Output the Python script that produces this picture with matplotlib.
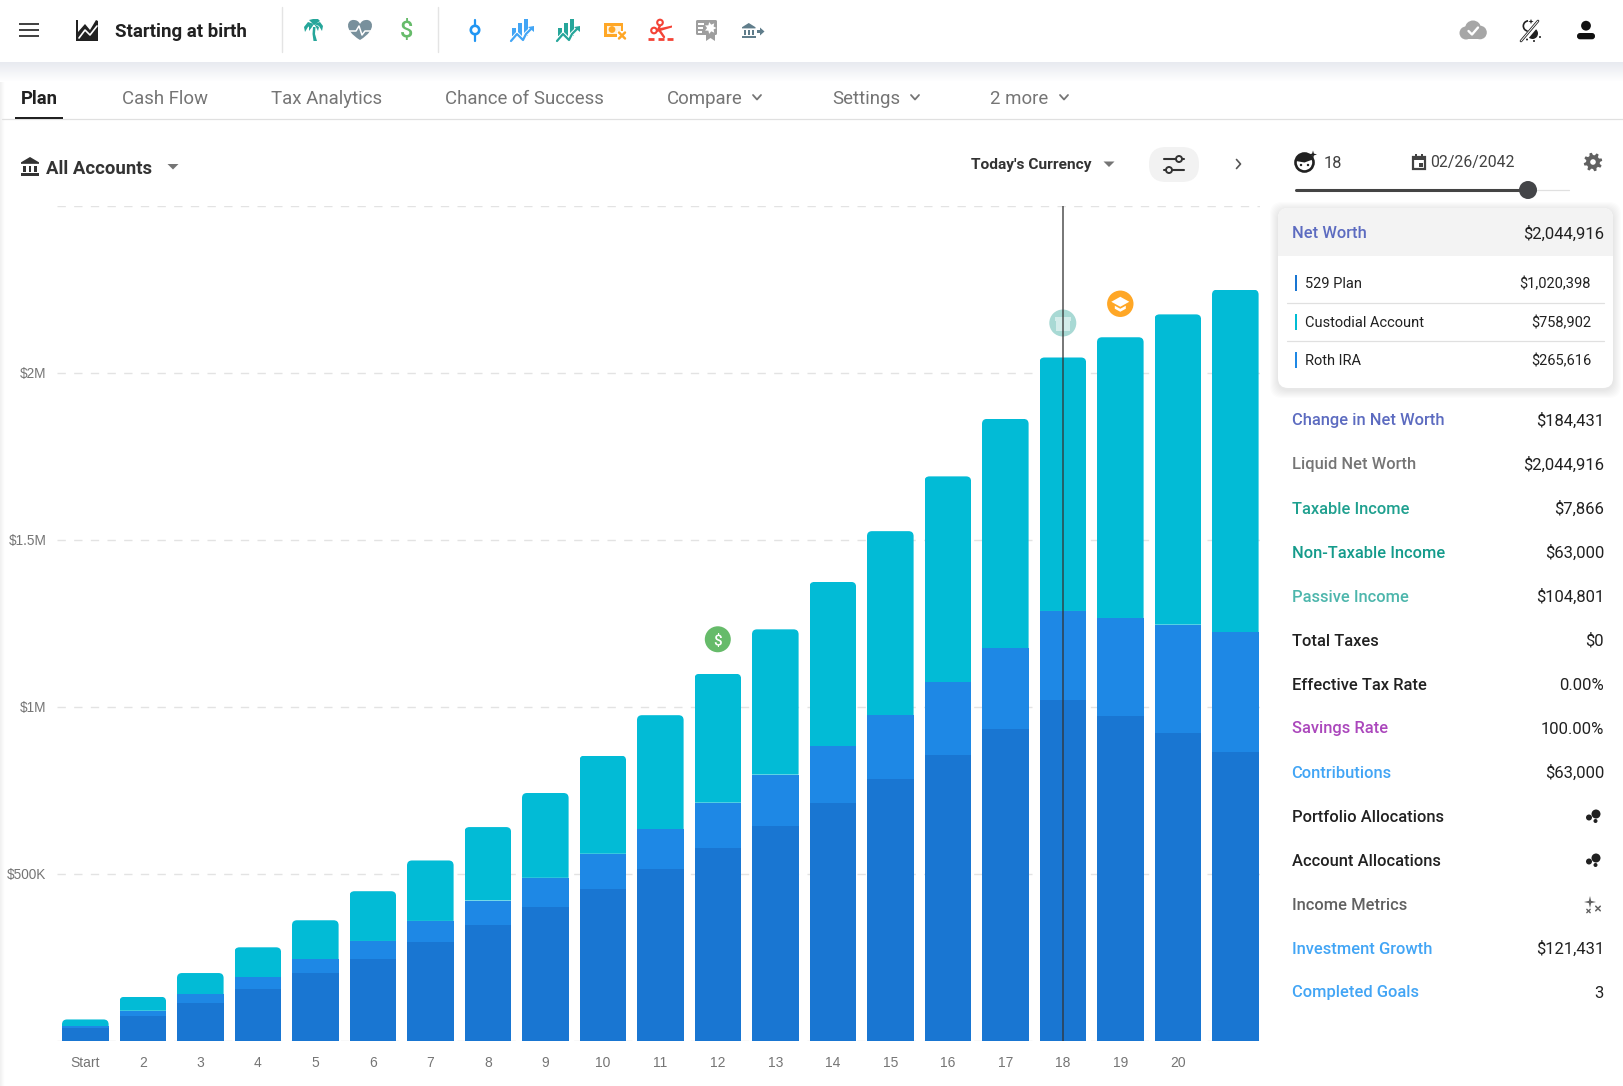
import numpy as np
import matplotlib
matplotlib.use("Agg")
import matplotlib.pyplot as plt
from matplotlib.path import Path
from matplotlib.patches import Rectangle, Circle, FancyBboxPatch, PathPatch, Polygon, Wedge

# ---------- data ----------
periods = ['Start', '2', '3', '4', '5', '6', '7', '8', '9', '10', '11', '12', '13', '14', '15', '16', '17', '18', '19', '20', '']
plan_529 = [36e3, 74e3, 113e3, 155e3, 201e3, 244e3, 294e3, 345e3, 401e3, 453e3, 512e3, 576e3, 641e3, 710e3, 782e3, 856e3, 934e3, 1020398, 971e3, 920e3, 865e3]
roth_ira = [7e3, 15e3, 25e3, 34e3, 42e3, 54e3, 64e3, 74e3, 86e3, 106e3, 121e3, 136e3, 155e3, 171e3, 192e3, 217e3, 241e3, 265616, 294e3, 325e3, 357e3]
custodial = [20e3, 42e3, 64e3, 90e3, 117e3, 149e3, 181e3, 220e3, 254e3, 294e3, 341e3, 386e3, 435e3, 492e3, 551e3, 616e3, 686e3, 758902, 840.5e3, 929e3, 1026e3]
y_ticks = [0, 500e3, 1e6, 1.5e6, 2e6, 2.5e6]
y_tick_labels = ['', '$500K', '$1M', '$1.5M', '$2M', '']
selected_period = 17

tabs = [('Cash Flow', 122), ('Tax Analytics', 271), ('Chance of Success', 445), ('Compare', 667), ('Settings', 832), ('2 more', 990)]
tab_chevrons = [757, 915, 1064]
breakdown = [('529 Plan', '$1,020,398', '#1976d2', 283), ('Custodial Account', '$758,902', '#00bcd4', 321.5), ('Roth IRA', '$265,616', '#1e88e5', 359.5)]
metrics = [
    ('Change in Net Worth', '$184,431', '#5c6bc0'),
    ('Liquid Net Worth', '$2,044,916', '#757575'),
    ('Taxable Income', '$7,866', '#1fa08f'),
    ('Non-Taxable Income', '$63,000', '#149b8b'),
    ('Passive Income', '$104,801', '#4db6ac'),
    ('Total Taxes', '$0', '#212121'),
    ('Effective Tax Rate', '0.00%', '#212121'),
    ('Savings Rate', '100.00%', '#ab47bc'),
    ('Contributions', '$63,000', '#42a5f5'),
    ('Portfolio Allocations', None, '#212121'),
    ('Account Allocations', None, '#212121'),
    ('Income Metrics', None, '#616161'),
    ('Investment Growth', '$121,431', '#42a5f5'),
    ('Completed Goals', '3', '#42a5f5'),
]

# ---------- figure ----------
W, H = 1623, 1086
plt.rcParams['font.family'] = ['Roboto', 'DejaVu Sans']
fig = plt.figure(figsize=(W / 100, H / 100), dpi=100, facecolor='white')

AX_L, AX_R, AX_T, AX_B = 57, 1260, 205.5, 1040.5
ax = fig.add_axes([AX_L / W, 1 - AX_B / H, (AX_R - AX_L) / W, (AX_B - AX_T) / H])
ax.set_facecolor('none')
px_per_x = 57.5
ax.set_xlim((AX_L - 85.3) / px_per_x, (AX_R - 85.3) / px_per_x)
ax.set_ylim(0, 2.5e6)
x = np.arange(len(periods))
bw = 46.6 / px_per_x
p = np.array(plan_529, float); r = np.array(roth_ira, float); c = np.array(custodial, float)
ax.bar(x, p, bw, color='#1976d2', zorder=3, label='529 Plan')
ax.bar(x, r, bw, bottom=p, color='#1e88e5', zorder=3, label='Roth IRA')
tops = ax.bar(x, c, bw, bottom=p + r, color='#02bbd6', zorder=3, label='Custodial Account')
rx = 5 / px_per_x
ry = 5 * 2.5e6 / (AX_B - AX_T)
for rect in tops:
    x0, y0 = rect.get_x(), rect.get_y()
    x1, y1 = x0 + rect.get_width(), y0 + rect.get_height()
    verts = [(x0, y0), (x0, y1 - ry), (x0, y1), (x0 + rx, y1), (x1 - rx, y1), (x1, y1), (x1, y1 - ry), (x1, y0), (x0, y0)]
    codes = [Path.MOVETO, Path.LINETO, Path.CURVE3, Path.CURVE3, Path.LINETO, Path.CURVE3, Path.CURVE3, Path.LINETO, Path.CLOSEPOLY]
    rect.set_clip_path(Path(verts, codes), ax.transData)

ax.set_yticks(y_ticks, y_tick_labels, family=['Liberation Sans'], fontsize=9.8, color='#757575')
ax.set_xticks(x, periods, family=['Liberation Sans'], fontsize=10, color='#757575')
ax.tick_params(axis='both', length=0)
ax.tick_params(axis='y', pad=7.5)
ax.tick_params(axis='x', pad=11.5)
ax.grid(axis='y', color='#e3e3e3', lw=1, dashes=(6, 6), zorder=0)
ax.set_axisbelow(True)
for s in ax.spines.values():
    s.set_visible(False)

# ---------- overlay in pixel coordinates ----------
ui = fig.add_axes([0, 0, 1, 1], zorder=10)
ui.set_xlim(0, W); ui.set_ylim(H, 0); ui.axis('off'); ui.patch.set_alpha(0)
under = fig.add_axes([0, 0, 1, 1], zorder=-1)
under.axis('off')


def T(x, y, s, size=11.8, color='#212121', ha='left', weight='normal', va='center_baseline', fam=None, **kw):
    if fam:
        kw['family'] = fam
    return ui.text(x, y, s, fontsize=size, color=color, ha=ha, va=va, fontweight=weight, **kw)


def L(xs, ys, color='k', lw=1.5, **kw):
    kw.setdefault('solid_capstyle', 'round')
    ui.plot(xs, ys, color=color, lw=lw, **kw)


def R(x0, y0, x1, y1, color, z=2, **kw):
    ui.add_patch(Rectangle((x0, y0), x1 - x0, y1 - y0, fc=color, ec='none', zorder=z, **kw))


def C(x, y, rad, color, z=3, **kw):
    ui.add_patch(Circle((x, y), rad, fc=color, ec='none', zorder=z, **kw))


def RING(x, y, rad, color, lw=1.5, z=3, fc='white'):
    ui.add_patch(Circle((x, y), rad, fc=fc, ec=color, lw=lw, zorder=z))


def P(pts, color, z=3):
    ui.add_patch(Polygon(pts, closed=True, fc=color, ec='none', zorder=z))


def chev(x, y, color='#757575', s=4):
    L([x - s, x, x + s], [y - s / 2, y + s / 2 + .5, y - s / 2], color=color, lw=1.3, zorder=4)


def tri(x, y, color='#757575', s=5.5):
    P([(x - s, y - 2.5), (x + s, y - 2.5), (x, y + 3)], color)


def star(x, y, ro, ri, n, color, z=5, rot=0):
    ang = np.radians(rot) + np.arange(2 * n) * np.pi / n
    rad = np.where(np.arange(2 * n) % 2 == 0, ro, ri)
    P(np.c_[x + rad * np.cos(ang), y + rad * np.sin(ang)], color, z=z)


def cross(x, y, s, color, lw=1.4):
    L([x - s, x + s], [y - s, y + s], color=color, lw=lw, zorder=5)
    L([x - s, x + s], [y + s, y - s], color=color, lw=lw, zorder=5)


def bank(x0, x1, y0, y1, col):
    mid = (x0 + x1) / 2
    h = y1 - y0
    P([(x0, y0 + .28 * h), (mid, y0), (x1, y0 + .28 * h), (x1, y0 + .36 * h), (x0, y0 + .36 * h)], col)
    R(x0, y1 - .14 * h, x1, y1, col)
    for f in (0.2, 0.5, 0.8):
        xc = x0 + f * (x1 - x0)
        R(xc - .07 * h, y0 + .45 * h, xc + .07 * h, y1 - .22 * h, col)


# nav bar and page-edge shadows
g = np.linspace(0, 1, 20)[:, None, None]
grad = np.array([232, 234, 240])[None, None, :] / 255 * (1 - g) + g
under.imshow(grad, extent=(0, W, 82, 62), aspect='auto', zorder=1)
g2 = np.linspace(0, 1, 6)[None, :, None]
grad2 = np.array([241, 241, 241])[None, None, :] / 255 * (1 - g2) + g2
under.imshow(grad2, extent=(0, 5, H, 82), aspect='auto', zorder=1)
under.set_xlim(0, W); under.set_ylim(H, 0)

# hamburger
for yy in (24, 30, 36):
    R(19, yy - 1, 39, yy + 1, '#444444')
# app icon
P([(76, 41), (76, 20), (78, 20), (78, 32), (85, 24), (90, 30), (96, 20), (98, 21), (98, 41)], '#212121')
L([79, 85, 90, 97], [38, 30, 35, 26], color='white', lw=1.2, zorder=4)
T(115, 30, 'Starting at birth', size=13.5, weight='bold', color='#212121')
for xx in (282, 438):
    L([xx, xx], [7, 52], color='#e4e4e4', lw=1)

# palm
TEAL = '#26a69a'
P([(313, 27), (315.5, 27), (315, 34), (317, 41), (313.5, 41), (312.5, 34)], TEAL)
for pts in ([(314, 24), (308, 22), (304, 27), (305, 32), (308, 27)], [(314, 24), (320, 22), (323, 26), (322, 31), (319, 26)],
            [(314, 25), (309, 20), (313, 19), (318, 19), (320, 21)], [(314, 24), (309, 26), (309, 31), (312, 27)], [(314, 24), (319, 27), (318, 31), (316, 27)]):
    P(pts, TEAL)
# heart
hx, hy = 360, 29
ui.add_patch(PathPatch(Path([(hx, hy + 11), (hx - 18, hy), (hx - 12, hy - 10), (hx - 6, hy - 9), (hx - 2, hy - 9), (hx, hy - 5),
                             (hx + 2, hy - 9), (hx + 6, hy - 9), (hx + 12, hy - 10), (hx + 18, hy), (hx, hy + 11)],
                            [Path.MOVETO, Path.CURVE4, Path.CURVE4, Path.CURVE4, Path.CURVE3, Path.CURVE3, Path.CURVE3, Path.CURVE3, Path.CURVE4, Path.CURVE4, Path.CURVE4]),
                       fc='#78909c', ec='none', zorder=3))
L([349, 356, 359, 362, 365, 372], [31, 31, 26, 35, 31, 31], color='white', lw=1.1, zorder=4)
T(407, 29.5, '$', size=17, color='#66bb6a', ha='center', weight='medium')
# pin
L([475, 475], [20, 41], color='#2196f3', lw=1.6)
RING(475, 30, 4.2, '#2196f3', lw=1.9, z=4)


def bars_icon(cx, col):
    for dx, top in ((-10, 28), (-4, 23), (2, 19)):
        R(cx + dx, top, cx + dx + 4, 36, col)
    xs = [cx - 11, cx - 5, cx + 1, cx + 4, cx + 10]
    ys = [41, 34, 40, 34, 28]
    L(xs, ys, color='white', lw=3, zorder=4)
    L(xs, ys, color=col, lw=1.6, zorder=5)
    P([(cx + 6, 27), (cx + 12, 26), (cx + 12, 32)], col, z=5)


bars_icon(522, '#42a5f5')
bars_icon(568, TEAL)
# orange cash
OR = '#ffa726'
R(604, 23, 623, 36.5, OR)
R(606.5, 25.5, 620.5, 34, '#fff3e0', z=3)
C(612, 29.5, 3.4, OR, z=4)
R(617, 31, 627, 39, 'white', z=4)
cross(622, 35.5, 3, OR, lw=1.8)
# red scissors
RED = '#f44336'
for a, b in ((648, 654), (658, 664), (667, 673)):
    L([a, b], [38.7, 38.7], color=RED, lw=2, solid_capstyle='butt')
RING(654, 30.5, 2.8, RED, lw=1.5)
RING(660, 22.5, 2.8, RED, lw=1.5)
P([(656, 29), (672, 25.5), (672, 27.5), (657, 32)], RED)
L([660, 658.5, 664], [25.5, 29, 37], color=RED, lw=1.7)
# gray badge
ui.add_patch(FancyBboxPatch((696, 20), 21, 15, boxstyle='round,pad=0,rounding_size=1.5', fc='#9e9e9e', ec='none', zorder=3))
P([(706, 34), (715, 34), (715, 41), (710.5, 38), (706, 41)], '#9e9e9e')
for yy, x1 in ((23, 704), (27, 703), (31, 702)):
    R(698, yy, x1, yy + 2, 'white', z=4)
star(710.5, 28, 6, 3.4, 7, 'white')
# bank and arrow
bank(742, 755.5, 23, 38, '#607d8b')
P([(757, 30), (760, 30), (760, 27.5), (764.5, 31.5), (760, 35.5), (760, 33), (757, 33)], '#607d8b')

# right icons
for cxx, cyy, rr in ((1466, 33, 6.5), (1473, 28.5, 8), (1480, 32.5, 6.8)):
    C(cxx, cyy, rr, '#a6a6a6')
R(1466, 33, 1480, 39.4, '#a6a6a6')
L([1468.5, 1472, 1478], [31, 34.5, 27.5], color='white', lw=1.7, zorder=5)
L([1521, 1538], [41, 21], color='#212121', lw=1.9)
ui.add_patch(Wedge((1528.5, 26), 6, 100, 265, width=1.7, fc='#212121', ec='none', zorder=3))
ui.add_patch(Wedge((1532.5, 33.5), 5.5, -50, 130, fc='#212121', ec='none', zorder=3))
L([1521, 1538], [41, 21], color='white', lw=0.7, zorder=2.9)
star(1531, 21.5, 2.6, 1, 4, '#212121')
for a, b in ((1527, 39.5), (1534, 41), (1540, 37)):
    C(a, b, 1, '#212121')
C(1586, 25.7, 4.9, '#111111')
ui.add_patch(FancyBboxPatch((1577, 33), 18, 6.3, boxstyle='round,pad=0,rounding_size=3', fc='#111111', ec='none', zorder=3))

# tabs
T(21, 96.5, 'Plan', size=13.3, weight='bold', color='#212121')
R(15, 116.5, 63, 118.5, '#212121')
L([2, W], [119.2, 119.2], color='#e0e0e0', lw=0.9, zorder=1)
for label, xx in tabs:
    T(xx, 96.5, label, size=13.4, color='#757575')
for xx in tab_chevrons:
    chev(xx, 97)

# toolbar
bank(21, 39, 157, 176, '#333333')
T(46, 166.5, 'All Accounts', size=13.3, weight='bold', color='#333333')
tri(173, 166.5)
T(971, 163.5, "Today's Currency", size=11.15, weight='bold', color='#333333')
tri(1109, 164)
ui.add_patch(FancyBboxPatch((1149, 147), 50, 35, boxstyle='round,pad=0,rounding_size=17', fc='#f2f2f2', ec='none', zorder=2))
L([1164, 1184], [159, 159], color='#333333', lw=1.5)
L([1164, 1184], [170, 170], color='#333333', lw=1.5)
RING(1179, 159, 3, '#333333', lw=1.4, z=4, fc='#f2f2f2')
RING(1169, 170, 3, '#333333', lw=1.4, z=4, fc='#f2f2f2')
L([1236.5, 1240.5, 1236.5], [159.5, 164, 168.5], color='#555555', lw=1.2)

# side panel header
RING(1304.5, 162.5, 9, '#212121', lw=1.9)
ui.add_patch(Wedge((1304.5, 162.5), 9, 190, 340, fc='#212121', ec='none', zorder=4))
C(1301, 165, 1.2, '#212121', z=5); C(1308, 165, 1.2, '#212121', z=5)
star(1313, 154.5, 4, 1.3, 4, '#212121')
T(1324, 161.5, '18', size=11.8, color='#424242')
ui.add_patch(Rectangle((1413, 157), 12, 11.5, fc='white', ec='#424242', lw=1.6, zorder=3))
R(1412.5, 156, 1425.5, 160, '#424242', z=4)
R(1415, 154, 1417, 157, '#424242', z=4); R(1421, 154, 1423, 157, '#424242', z=4)
R(1419, 163, 1423, 166.5, '#424242', z=4)
T(1430.5, 161.5, '02/26/2042', size=11.4, color='#424242')
ang = np.radians(np.arange(0, 360, 7.5) + 22.5)
radii = np.where((np.arange(48) % 6) < 3, 9.3, 6.9)
P(np.c_[1593 + radii * np.cos(ang), 162 + radii * np.sin(ang)], '#616161')
C(1593, 162, 2.8, 'white', z=4)
L([1296, 1569], [190, 190], color='#e0e0e0', lw=0.9, zorder=1)
L([1296, 1528], [190, 190], color='#444444', lw=2.2, zorder=2)
C(1528, 190, 9, '#444548', z=3)

# card
for g_ in range(16, 0, -2):
    ui.add_patch(FancyBboxPatch((1278 - g_ / 2, 208 - g_ / 2 + 2), 335 + g_, 180 + g_, boxstyle='round,pad=0,rounding_size=12', fc='black', ec='none', alpha=0.012, zorder=1))
card = FancyBboxPatch((1278, 208), 335, 180, boxstyle='round,pad=0,rounding_size=10', fc='white', ec='none', zorder=1.5)
ui.add_patch(card)
hdr = Rectangle((1278, 208), 335, 48, fc='#f3f3f3', ec='none', zorder=1.6)
ui.add_patch(hdr)
hdr.set_clip_path(card)
T(1291.5, 232.5, 'Net Worth', color='#5c6bc0', size=11.9, weight='medium')
T(1604, 232.5, '$2,044,916', color='#212121', size=12, ha='right')
for label, val, col, yy in breakdown:
    R(1295, yy - 8, 1297.2, yy + 8, col)
    T(1305, yy, label, size=10.5, color='#212121')
    T(1591, yy, val, size=10.5, color='#212121', ha='right')
for yy in (303, 341):
    L([1287, 1604], [yy, yy], color='#e0e0e0', lw=0.9, zorder=2)

# metric rows
rows_y = [419.5, 463.5, 507.5, 551.5, 595.5, 639.5, 683.5, 727.5, 771.5, 815.5, 859.5, 903.5, 947.5, 991.5]
for (label, val, col), yy in zip(metrics, rows_y):
    T(1291.5, yy, label, color=col, size=11.9, weight='medium')
    if val:
        T(1604, yy, val, color='#212121', size=12, ha='right')
for yy in (816, 860):
    C(1596, yy - 2, 4.5, '#212121'); C(1589, yy + 1.5, 3, '#212121'); C(1595.5, yy + 5, 2, '#212121')
star(1590, 902, 6, 1.6, 4, '#616161', rot=0)
cross(1588.5, 911, 1.7, '#616161', lw=1)
cross(1598, 908.5, 2.3, '#616161', lw=1.1)


# markers above bars
def marker_xy(idx, offset):
    pos = ax.transData.transform((idx, (p + r + c)[idx]))
    return pos[0], H - pos[1] - offset


mx, my = marker_xy(11, 34.5)
C(mx, my, 13, '#66bb6a', z=6)
T(mx, my, '$', size=11, color='white', ha='center', zorder=7, weight='medium')
mx, my = marker_xy(17, 34.5)
C(mx, my, 13.5, '#a8d9d4', z=6)
R(mx - 7, my - 3, mx + 7, my + 8, '#d3ecea', z=7)
R(mx - 8, my - 6, mx + 8, my - 2, '#d3ecea', z=7)
vx = mx
L([vx, vx], [AX_T, AX_B], color='#333333', lw=1.1, alpha=0.85, zorder=8, solid_capstyle='butt')
mx, my = marker_xy(18, 33.5)
C(mx, my, 13.2, OR, z=6)
P([(mx - 9, my - 2), (mx, my - 7), (mx + 9, my - 2), (mx, my + 3)], 'white', z=7)
P([(mx - 5.5, my + 2), (mx, my + 5), (mx + 5.5, my + 2), (mx + 5.5, my + 5), (mx, my + 8), (mx - 5.5, my + 5)], 'white', z=7)

fig.savefig('out.png', dpi=100)
